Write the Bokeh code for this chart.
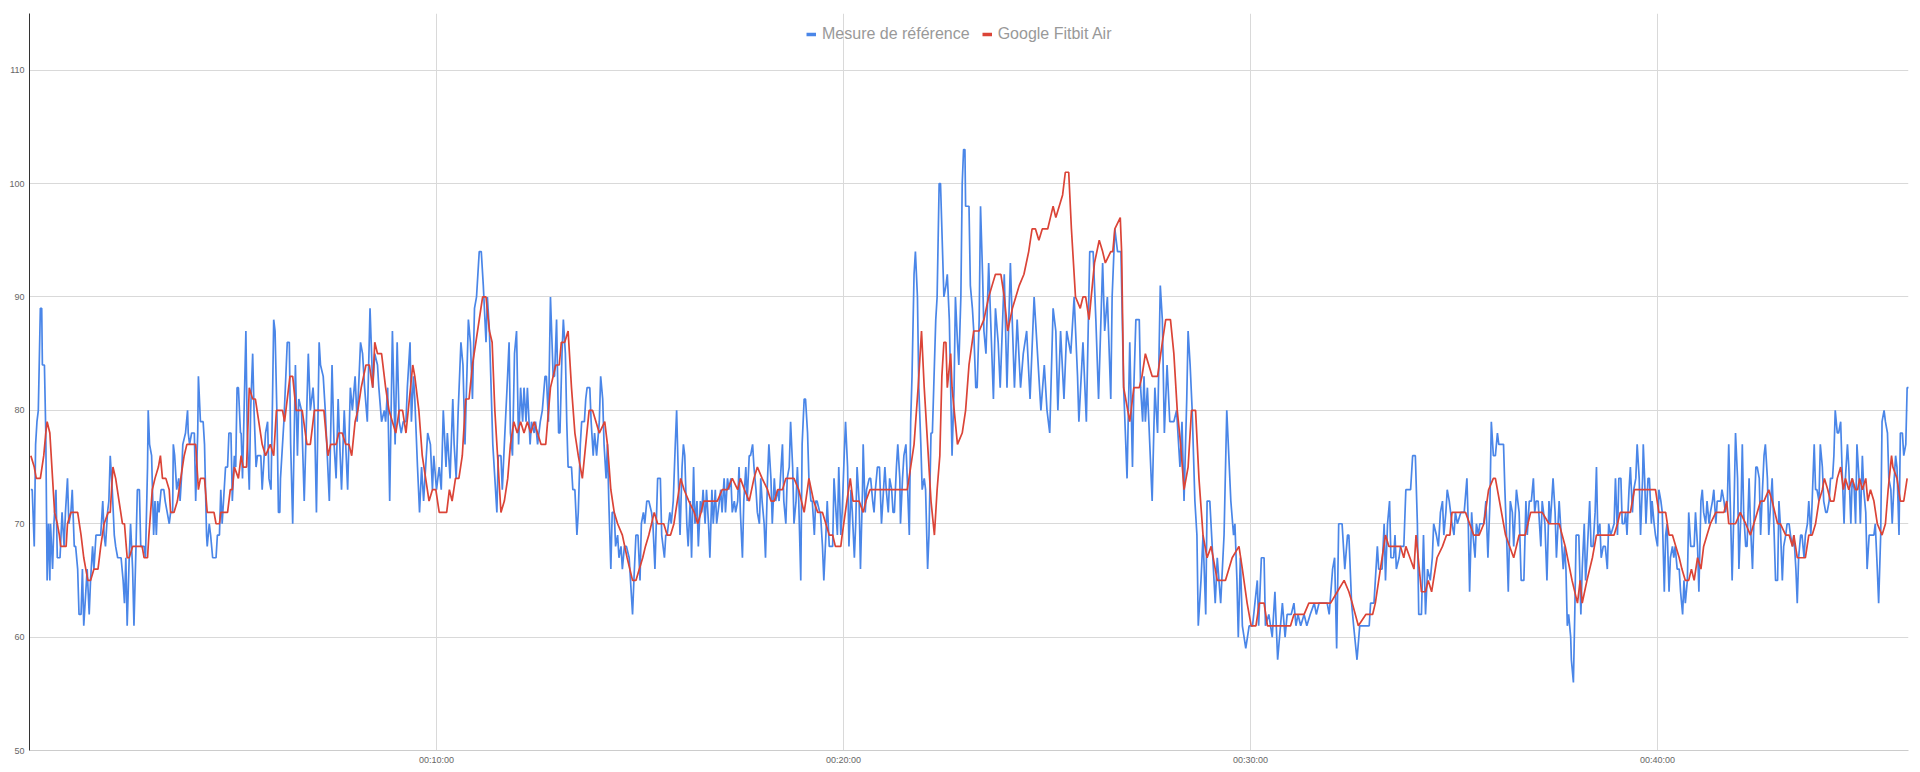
import numpy as np
from bokeh.plotting import figure
from bokeh.models import FixedTicker, Legend, LegendItem, Range1d
from bokeh.embed import file_html
from bokeh.resources import INLINE

# Heart rate, seconds from start / bpm
# chest strap reference ("Mesure de référence")
ref_t = [
    2, 4, 7, 9, 11, 13, 16, 18, 19, 22, 24, 26, 28, 30, 31, 34, 36, 39, 41, 45,
    48, 51, 53, 56, 58, 61, 63, 66, 68, 71, 73, 76, 78, 80, 83, 85, 88, 90, 93, 95,
    98, 103, 105, 108, 110, 112, 115, 117, 119, 122, 125, 127, 130, 135, 138, 140, 142, 144, 147, 149,
    152, 154, 157, 159, 162, 164, 169, 171, 174, 175, 177, 180, 183, 185, 187, 189, 191, 194, 198, 200,
    203, 206, 208, 211, 212, 214, 217, 220, 222, 224, 226, 230, 233, 234, 236, 239, 243, 245, 248, 249,
    252, 256, 258, 261, 262, 265, 267, 270, 275, 277, 280, 282, 284, 287, 289, 292, 294, 297, 299, 302,
    304, 306, 308, 311, 312, 314, 316, 319, 321, 324, 326, 329, 331, 334, 336, 341, 343, 346, 348, 351,
    353, 356, 358, 360, 362, 365, 367, 369,
    370, 375, 380, 383, 385, 388, 392, 395, 397, 401, 405, 411, 414, 418, 420, 423, 427, 429, 433, 436,
    442, 446, 449, 452, 455, 458, 460, 464, 469, 473, 476, 480, 483, 488, 491, 494, 498, 502, 506, 509,
    513, 515, 519, 523, 525, 528, 531, 535, 539, 542, 545, 548, 551, 555, 557, 561, 563, 566, 568, 572,
    575, 578, 581, 584, 587, 591, 594, 596, 600, 604, 607, 610, 614, 616, 620, 624, 626, 629, 632, 636,
    639, 642, 647, 650, 653, 656, 659, 663, 666, 669, 673, 675, 678, 680, 683, 686, 689, 691, 695, 697,
    700, 704, 707, 709, 712, 715, 718, 721, 724, 727, 729, 732, 734, 738, 740, 744, 746, 749, 753, 756,
    760, 762, 765,
    768, 772, 774, 777, 780, 782, 785, 787, 790, 792, 794, 799, 801, 804, 807, 809, 812, 814, 818, 820,
    822, 826, 828, 831, 833, 836, 840, 842, 845, 847, 850, 852, 854, 857, 859, 862, 864, 867, 869, 872,
    874, 877, 880, 884, 886, 889, 891, 894, 897, 900, 902, 905, 907, 910, 913, 917, 919, 922, 926, 930,
    932, 936, 938, 940, 944, 946, 949, 952, 954, 957, 959, 962, 964, 966, 969, 971, 974, 976, 979, 981,
    984, 986, 989, 991, 993, 996, 998, 1001, 1003, 1006, 1008, 1011, 1013, 1017, 1019, 1021, 1024, 1026, 1029, 1031,
    1034, 1036, 1039, 1041, 1044, 1046, 1048, 1051, 1053, 1056, 1058, 1061, 1063, 1066, 1068, 1071, 1073, 1076, 1078, 1080,
    1083, 1085, 1088, 1090, 1093, 1095, 1098, 1100, 1103, 1105, 1107, 1110, 1112, 1115, 1117, 1120, 1122, 1125, 1127, 1130,
    1132, 1134, 1137, 1139, 1142, 1144, 1147, 1149, 1152, 1154, 1157, 1159, 1161, 1165,
    1166, 1169, 1171, 1174, 1176, 1179, 1181, 1184, 1186, 1188, 1191, 1193, 1196, 1198, 1201, 1203, 1206, 1208, 1211, 1213,
    1216, 1218, 1220, 1223, 1225, 1228, 1229, 1232, 1234, 1238, 1240, 1243, 1245, 1247, 1250, 1253, 1256, 1258, 1261, 1263,
    1266, 1268, 1271, 1273, 1275, 1278, 1280, 1283, 1284, 1287, 1289, 1292, 1294, 1297, 1299, 1301, 1304, 1306, 1309, 1311,
    1314, 1316, 1319, 1321, 1324, 1326, 1329, 1331, 1333, 1336, 1338, 1341, 1343, 1346, 1348, 1351, 1353, 1356, 1358, 1360,
    1363, 1365, 1368, 1370, 1373, 1375, 1377, 1379, 1380, 1383, 1385, 1387, 1390, 1392, 1395, 1397, 1400, 1402, 1405, 1407,
    1410, 1414, 1421, 1424, 1428, 1431, 1437, 1441, 1446, 1452, 1456, 1461, 1465, 1470, 1475, 1481, 1486, 1491, 1496, 1500,
    1504, 1509, 1513, 1516, 1520, 1525, 1529, 1535, 1540, 1545, 1547, 1553, 1558, 1563,
    1568, 1572, 1576, 1582, 1585, 1589, 1594, 1596, 1600, 1604, 1609, 1613, 1618, 1622, 1626, 1628, 1631, 1636, 1638, 1641,
    1643, 1645, 1648, 1655, 1659, 1663, 1667, 1670, 1673, 1677, 1681, 1687, 1691, 1696, 1699, 1702, 1706, 1708, 1711, 1714,
    1718, 1721, 1723, 1727, 1730, 1734, 1736, 1740, 1748, 1751, 1756, 1761, 1765, 1771, 1775, 1777, 1780, 1782, 1785, 1788,
    1793, 1798, 1803, 1810, 1812, 1816, 1820, 1822, 1827, 1832, 1836, 1840, 1847, 1851, 1854, 1860, 1864, 1867, 1870, 1874,
    1879, 1883, 1888, 1894, 1897, 1901, 1906, 1913, 1916, 1921, 1924, 1927, 1930, 1935, 1939, 1943, 1945, 1949, 1952, 1957,
    1961,
    1967, 1970, 1975, 1977, 1982, 1984, 1987, 1989, 1994, 1997, 1999, 2002, 2005, 2007, 2011, 2013, 2015, 2019, 2021, 2026,
    2029, 2031, 2036, 2039, 2043, 2046, 2048, 2052, 2055, 2058, 2061, 2065, 2068, 2070, 2074, 2077, 2080, 2083, 2085, 2088,
    2090, 2093, 2095, 2097, 2100, 2102, 2105, 2110, 2115, 2119, 2121, 2123, 2126, 2128, 2131, 2133, 2136, 2138, 2142, 2144,
    2147, 2150, 2153, 2155, 2158, 2161, 2164, 2166, 2173, 2175, 2178, 2180, 2183, 2186, 2188, 2192, 2196, 2199, 2203, 2206,
    2208, 2211, 2214, 2217, 2219, 2221, 2224, 2228, 2230, 2234, 2237, 2240, 2242, 2246, 2249, 2251, 2255, 2258, 2261, 2263,
    2265, 2267, 2269, 2272, 2273, 2276, 2278, 2280, 2284, 2287, 2289, 2292, 2294, 2296, 2300, 2302, 2305, 2308, 2310, 2312,
    2315, 2317, 2320, 2323, 2326, 2328, 2331, 2336, 2338, 2341, 2343, 2346, 2348, 2351, 2353, 2355, 2358, 2360,
    2363, 2365, 2368, 2370, 2373, 2375, 2378, 2379, 2381, 2383, 2386, 2388, 2391, 2392, 2395, 2397, 2400, 2402, 2405, 2407,
    2410, 2412, 2414, 2417, 2419, 2422, 2424, 2426, 2429, 2432, 2434, 2437, 2439, 2441, 2444, 2446, 2449, 2454, 2456, 2459,
    2461, 2464, 2466, 2468, 2471, 2473, 2476, 2478, 2481, 2483, 2486, 2488, 2491, 2493, 2495, 2498, 2500, 2503, 2505, 2508,
    2510, 2513, 2515, 2518, 2520, 2523, 2525, 2527, 2530, 2532, 2535, 2537, 2540, 2542, 2545, 2547, 2550, 2552, 2554, 2557,
    2559, 2562, 2564, 2567, 2569, 2572, 2574, 2577, 2579, 2581, 2584, 2586, 2589, 2591, 2594, 2596, 2599, 2601, 2604, 2606,
    2608, 2611, 2613, 2616, 2618, 2621, 2623, 2626, 2628, 2631, 2633, 2635, 2638, 2640, 2643, 2645, 2648, 2650, 2653, 2655,
    2658, 2660, 2662, 2665, 2667, 2670, 2672, 2675, 2677, 2680, 2682, 2685, 2687, 2690, 2692, 2694, 2697, 2699, 2702, 2704,
    2707, 2709, 2712, 2714, 2719, 2721, 2724, 2726, 2729, 2731, 2734, 2736, 2739, 2741, 2744, 2746, 2749, 2751, 2753, 2756,
    2758, 2761, 2763, 2766, 2768, 2771,
]
ref_bpm = [
    73, 73, 68, 77, 79, 80, 89, 89, 84, 84, 78, 65, 70, 65, 70, 66, 70, 73, 67, 67,
    71, 68, 71, 74, 70, 71, 73, 68, 68, 66, 62, 62, 66, 61, 64, 66, 62, 65, 68, 66,
    69, 69, 69, 72, 69, 68, 71, 72, 76, 73, 69, 68, 67, 67, 65, 63, 67, 61, 67, 70,
    66, 61, 68, 73, 73, 68, 68, 67, 75, 80, 77, 76, 69, 72, 69, 72, 71, 73, 73, 72,
    71, 70, 71, 71, 77, 76, 73, 74, 72, 74, 77, 78, 80, 78, 77, 78, 78, 72, 78, 83,
    79, 79, 77, 69, 68, 70, 69, 67, 67, 69, 69, 73, 70, 73, 75, 75, 78, 78, 72, 76,
    75, 82, 82, 78, 78, 74, 79, 87, 78, 73, 80, 85, 80, 75, 76, 76, 73, 76, 78, 79,
    74, 73, 80, 88, 87, 79, 71, 71,
    74, 79, 86, 86, 77, 70, 84, 76, 81, 80, 72, 85, 80, 82, 80, 71, 86, 84, 83, 80,
    72, 84, 77, 74, 81, 76, 73, 80, 73, 82, 80, 83, 79, 86, 85, 82, 79, 89, 82, 85,
    84, 82, 79, 80, 79, 82, 72, 87, 77, 86, 79, 78, 79, 79, 82, 86, 79, 83, 81, 75,
    71, 75, 72, 75, 78, 77, 73, 76, 73, 75, 73, 80, 75, 78, 74, 81, 77, 74, 80, 86,
    84, 77, 88, 86, 81, 89, 90, 94, 94, 91, 86, 90, 87, 83, 77, 74, 71, 76, 76, 73,
    77, 82, 86, 78, 76, 85, 87, 77, 82, 79, 82, 79, 82, 77, 79, 78, 79, 77, 79, 80,
    83, 83, 79,
    90, 83, 83, 88, 78, 78, 85, 88, 85, 79, 75, 75, 73, 73, 69, 71, 77, 79, 79, 81,
    82, 82, 79, 76, 78, 76, 79, 83, 81, 77, 74, 77, 72, 66, 71, 71, 68, 69, 67, 68,
    66, 68, 68, 67, 65, 62, 65, 69, 69, 65, 70, 71, 70, 72, 72, 71, 70, 66, 74, 74,
    69, 67, 69, 69, 71, 70, 72, 77, 80, 73, 69, 75, 77, 76, 70, 68, 72, 67, 75, 70,
    72, 68, 72, 71, 73, 70, 73, 70, 67, 73, 70, 73, 70, 72, 73, 71, 74, 71, 74, 73,
    74, 71, 72, 71, 72, 75, 71, 67, 72, 75, 72, 76, 76, 77, 75, 73, 71, 70, 74, 72,
    70, 67, 74, 77, 74, 70, 74, 72, 73, 72, 74, 77, 72, 70, 74, 75, 79, 75, 70, 72,
    75, 72, 65, 77, 81, 81, 78, 74, 72, 72, 69, 72, 72, 71,
    71, 68, 65, 69, 72, 68, 68, 68, 74, 72, 69, 75, 69, 71, 76, 79, 75, 68, 73, 71,
    67, 70, 75, 72, 66, 73, 77, 71, 73, 74, 74, 72, 71, 73, 75, 75, 70, 72, 75, 73,
    71, 74, 73, 71, 71, 75, 77, 74, 70, 74, 76, 77, 74, 69, 79, 83, 92, 94, 90, 82,
    77, 73, 74, 73, 66, 69, 78, 78, 82, 88, 90, 100, 100, 94, 90, 91, 92, 88, 82, 76,
    82, 90, 86, 84, 90, 100, 103, 103, 98, 98, 98, 91, 89, 87, 82, 82, 88, 98, 92, 87,
    85, 93, 81, 89, 86, 82, 92, 82, 93, 82, 88, 82, 85, 87, 81, 90, 85, 80, 84, 80,
    78, 89, 87, 80, 87, 81, 87, 85, 90, 83, 79, 86, 79, 94,
    94, 88, 81, 93, 87, 90, 81, 90, 96, 94, 94, 82, 74, 86, 75, 82, 88, 88, 82, 79,
    83, 79, 82, 72, 82, 78, 91, 88, 78, 84, 79, 79, 80, 75, 79, 72, 81, 87, 84, 80,
    72, 69, 61, 65, 69, 62, 72, 72, 63, 67, 63, 69, 80, 72, 69, 70, 65, 60, 67, 61,
    59, 61, 61, 65, 61, 67, 67, 61, 62, 60, 64, 58, 63, 60, 62, 62, 63, 61, 62, 61,
    62, 61, 62, 63, 62, 63, 63, 63, 62, 66, 67, 59, 70, 70, 66, 69, 69, 63, 61, 58,
    61,
    61, 61, 61, 63, 63, 65, 68, 66, 66, 70, 65, 70, 72, 67, 67, 69, 66, 67, 68, 68,
    73, 73, 73, 76, 76, 70, 62, 62, 69, 62, 66, 65, 67, 70, 69, 68, 71, 72, 69, 71,
    73, 72, 71, 70, 69, 71, 70, 71, 71, 74, 70, 64, 71, 69, 67, 70, 69, 70, 70, 70,
    72, 67, 72, 79, 76, 76, 78, 77, 77, 73, 68, 64, 72, 71, 68, 73, 71, 65, 65, 72,
    69, 72, 72, 74, 71, 72, 72, 68, 72, 70, 65, 72, 70, 74, 71, 67, 72, 69, 66, 68,
    66, 61, 62, 60, 58, 56, 62, 69, 69, 62, 66, 70, 65, 67, 72, 68, 68, 71, 75, 69,
    70, 67, 68, 68, 66, 70, 69, 70, 74, 69, 74, 74, 70, 70, 71, 69, 73, 75,
    71, 73, 74, 77, 74, 69, 74, 77, 74, 70, 74, 74, 70, 72, 70, 69, 68, 73, 72, 71,
    64, 69, 70, 64, 67, 68, 67, 68, 66, 66, 64, 62, 65, 63, 65, 71, 68, 68, 71, 68,
    64, 72, 73, 71, 70, 72, 70, 71, 72, 73, 70, 72, 72, 72, 73, 72, 71, 72, 77, 70,
    65, 72, 78, 74, 66, 71, 77, 71, 68, 68, 74, 70, 66, 70, 75, 75, 74, 69, 72, 76,
    77, 74, 69, 72, 74, 69, 65, 65, 72, 70, 65, 68, 69, 70, 70, 69, 68, 69, 66, 63,
    67, 69, 69, 67, 69, 70, 72, 69, 72, 77, 73, 73, 72, 77, 75, 72, 71, 71, 72, 74,
    74, 76, 80, 78, 78, 79, 75, 70, 74, 77, 75, 70, 74, 73, 70, 77, 74, 70, 76, 73,
    71, 66, 69, 69, 69, 70, 66, 63, 69, 79, 80, 79, 78, 74, 73, 70, 74, 76, 75, 69,
    78, 78, 76, 77, 82, 82,
]

# Google Fitbit Air
fit_t = [
    2, 7, 10, 16, 21, 24, 26, 30, 34, 37, 41, 44, 46, 54, 56, 61, 71, 76, 80, 83,
    86, 90, 95, 101, 105, 110, 116, 119, 123, 127, 132, 137, 140, 144, 147, 152, 166, 169, 174, 176,
    181, 185, 190, 193, 196, 201, 206, 208, 213, 218, 223, 228, 232, 245, 249, 252, 258, 262, 272, 275,
    280, 282, 287, 292, 296, 299, 302, 308, 312, 315, 320, 324, 329, 333, 338, 343, 348, 355, 360, 364,
    370,
    373, 376, 384, 388, 393, 402, 409, 414, 420, 434, 440, 444, 452, 456, 461, 466, 471, 475, 480, 484,
    489, 496, 501, 506, 509, 513, 519, 525, 530, 535, 540, 545, 550, 555, 560, 565, 568, 574, 579, 584,
    589, 594, 599, 604, 611, 615, 619, 623, 628, 633, 638, 643, 648, 653, 658, 663, 668, 673, 678, 682,
    686, 690, 695, 700, 705, 709, 714, 719, 724, 729, 734, 739, 744, 749, 754, 761,
    768, 776, 781, 784, 789, 794, 799, 804, 809, 815, 820, 825, 830, 840, 848, 852, 857, 862, 867, 874,
    881, 889, 894, 899, 904, 908, 913, 921, 926, 935, 940, 945, 950, 955, 960, 965, 972, 980, 985, 990,
    994, 1004, 1014, 1021, 1029, 1036, 1044, 1048, 1054, 1061, 1068, 1073, 1080, 1088, 1093, 1098, 1103, 1110, 1115, 1127,
    1134, 1142, 1149, 1156, 1162,
    1169, 1179, 1184, 1188, 1196, 1198, 1205, 1210, 1214, 1223, 1229, 1233, 1239, 1294, 1299, 1304, 1310, 1315, 1319, 1324,
    1329, 1334, 1338, 1342, 1345, 1348, 1351, 1353, 1358, 1360, 1368, 1375, 1380, 1385, 1392, 1400, 1407, 1414, 1419, 1424,
    1432, 1437, 1442, 1449, 1454, 1459, 1466, 1473, 1478, 1483, 1488, 1493, 1501, 1505, 1509, 1513, 1518, 1523, 1527, 1532,
    1536, 1542, 1549, 1553, 1557, 1562,
    1570, 1577, 1582, 1586, 1594, 1597, 1600, 1608, 1610, 1613, 1616, 1622, 1628, 1636, 1640, 1645, 1650, 1655, 1663, 1670,
    1675, 1682, 1687, 1692, 1697, 1702, 1708, 1713, 1719, 1724, 1730, 1736, 1742, 1751, 1763, 1773, 1783, 1788, 1795, 1801,
    1808, 1813, 1820, 1825, 1859, 1864, 1879, 1886, 1918, 1928, 1938, 1945, 1950, 1959,
    1970, 1980, 1984, 1989, 1994, 1999, 2004, 2009, 2021, 2026, 2029, 2035, 2041, 2044, 2052, 2058, 2062, 2067, 2075, 2083,
    2089, 2094, 2097, 2117, 2129, 2137, 2144, 2151, 2158, 2161, 2176, 2188, 2196, 2205, 2213, 2230, 2240, 2255, 2264, 2274,
    2282, 2286, 2289, 2296, 2304, 2310, 2336, 2341, 2345, 2360,
    2366, 2373, 2397, 2402, 2412, 2417, 2422, 2427, 2432, 2436, 2441, 2446, 2450, 2454, 2459, 2464, 2468, 2473, 2478, 2486,
    2493, 2498, 2502, 2505, 2515, 2522, 2530, 2537, 2542, 2547, 2552, 2557, 2564, 2569, 2577, 2581, 2589, 2594, 2599, 2601,
    2606, 2613, 2618, 2623, 2628, 2633, 2638, 2643, 2646, 2651, 2655, 2660, 2665, 2670, 2674, 2677, 2682, 2687, 2692, 2695,
    2698, 2702, 2707, 2710, 2714, 2719, 2724, 2731, 2736, 2740, 2745, 2747, 2753, 2758, 2763, 2768,
]
fit_bpm = [
    76, 75, 74, 74, 76, 78, 79, 78, 74, 71, 70, 69, 68, 68, 70, 71, 71, 69, 67, 66,
    65, 65, 66, 66, 68, 70, 71, 71, 75, 74, 72, 70, 70, 67, 67, 68, 68, 67, 67, 69,
    73, 74, 75, 76, 74, 74, 73, 71, 71, 72, 74, 76, 77, 77, 73, 74, 74, 71, 71, 70,
    70, 71, 71, 71, 73, 73, 75, 74, 76, 75, 75, 82, 81, 81, 79, 77, 76, 77, 76, 80,
    80,
    80, 79, 83, 83, 80, 80, 77, 77, 80, 80, 76, 77, 77, 78, 78, 77, 77, 76, 79, 80,
    82, 84, 84, 82, 86, 85, 85, 82, 80, 79, 78, 80, 80, 78, 81, 84, 83, 80, 76, 74,
    72, 73, 73, 71, 71, 71, 73, 72, 74, 74, 76, 81, 81, 84, 86, 88, 90, 90, 87, 86,
    80, 76, 71, 72, 74, 77, 79, 78, 79, 78, 79, 78, 79, 78, 77, 77,
    82, 84, 84, 86, 86, 87, 82, 78, 76, 74, 77, 80, 80, 78, 79, 77, 73, 71, 70, 69,
    67, 65, 65, 66, 67, 68, 69, 71, 70, 70, 69, 69, 70, 72, 74, 73, 72, 71, 70, 71,
    72, 72, 72, 73, 73, 74, 73, 74, 73, 72, 74, 75, 74, 73, 72, 72, 73, 73, 74, 74,
    73, 71, 74, 72, 71,
    71, 69, 69, 68, 68, 69, 72, 74, 72, 72, 71, 72, 73, 73, 75, 77, 82, 87, 82, 77,
    72, 69, 73, 76, 83, 86, 86, 82, 85, 82, 77, 78, 80, 84, 87, 87, 88, 90, 91, 92,
    92, 90, 87, 89, 90, 91, 92, 94, 96, 96, 95, 96, 96, 97, 98, 97, 98, 99, 101, 101,
    96, 90, 89, 90, 90, 88,
    93, 95, 94, 93, 94, 94, 96, 97, 94, 82, 81, 79, 82, 82, 83, 85, 84, 83, 83, 86,
    88, 88, 85, 80, 77, 73, 75, 80, 80, 74, 69, 67, 68, 65, 65, 67, 68, 66, 63, 61,
    61, 63, 63, 61, 61, 62, 62, 63, 63, 64, 65, 64, 63, 61,
    62, 62, 63, 65, 67, 69, 68, 68, 68, 67, 68, 67, 66, 69, 64, 64, 65, 64, 67, 68,
    69, 69, 71, 71, 69, 69, 70, 73, 74, 74, 69, 67, 69, 69, 71, 71, 70, 70, 68, 65,
    63, 65, 63, 65, 67, 69, 69, 70, 71, 71,
    73, 73, 73, 71, 71, 69, 69, 68, 67, 66, 65, 65, 66, 65, 67, 66, 68, 69, 70, 71,
    71, 71, 72, 70, 70, 71, 70, 69, 70, 71, 72, 72, 73, 72, 70, 70, 69, 69, 68, 69,
    67, 67, 67, 69, 69, 70, 72, 73, 74, 73, 72, 72, 74, 75, 73, 74, 73, 74, 73, 73,
    74, 73, 74, 72, 73, 72, 70, 69, 70, 73, 76, 75, 74, 72, 72, 74,
]

x_ticks = [600, 1200, 1800, 2400]
x_labels = ["00:10:00", "00:20:00", "00:30:00", "00:40:00"]
y_ticks = [50, 60, 70, 80, 90, 100, 110]

BLUE = "#4a86e8"
RED = "#db4437"
GRID = "#d9d9d9"
FONT = "Liberation Sans"

p = figure(width=1912, height=767, x_range=Range1d(0, 2770), y_range=Range1d(50, 115),
           output_backend="svg", toolbar_location=None,
           min_border_left=29, min_border_right=4, min_border_top=13, min_border_bottom=0)
p.outline_line_color = None
p.background_fill_color = "white"
p.border_fill_color = "white"

ref_line = p.line(ref_t, ref_bpm, line_color=BLUE, line_width=1.7)
fit_line = p.line(fit_t, fit_bpm, line_color=RED, line_width=1.7)

# thicker swatches only for the legend (one NaN point, nothing drawn in the plot)
ref_key = p.line(np.array([np.nan]), np.array([np.nan]), line_color=BLUE, line_width=3.5)
fit_key = p.line(np.array([np.nan]), np.array([np.nan]), line_color=RED, line_width=3.5)

p.xaxis.ticker = FixedTicker(ticks=x_ticks)
p.xaxis.major_label_overrides = dict(zip(x_ticks, x_labels))
p.yaxis.ticker = FixedTicker(ticks=y_ticks)

for ax in (p.xaxis[0], p.yaxis[0]):
    ax.major_tick_line_color = None
    ax.minor_tick_line_color = None
    ax.major_tick_out = 0
    ax.major_label_text_font = FONT
    ax.major_label_text_font_size = "9px"
    ax.major_label_text_color = "#666666"
p.xaxis.axis_line_color = "#cccccc"
p.xaxis.major_label_standoff = 4
p.yaxis.axis_line_color = "#333333"
p.yaxis.major_label_standoff = 5

p.xgrid.grid_line_color = GRID
p.ygrid.grid_line_color = GRID

legend = Legend(items=[LegendItem(label="Mesure de référence", renderers=[ref_key]),
                       LegendItem(label="Google Fitbit Air", renderers=[fit_key])],
                location=(777, 706), orientation="horizontal",
                padding=0, margin=0, spacing=12, glyph_width=10, glyph_height=20,
                label_standoff=6, label_height=20,
                label_text_font=FONT, label_text_font_size="16px", label_text_color="#999999",
                background_fill_alpha=0, border_line_alpha=0)
p.add_layout(legend)

open("out.html", "w").write(file_html(p, INLINE))
